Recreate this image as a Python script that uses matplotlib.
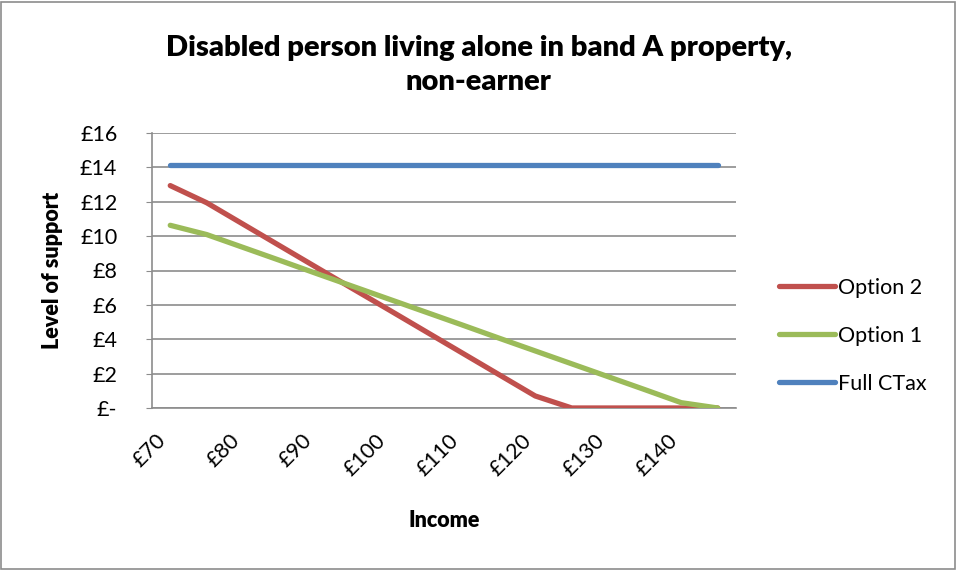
import matplotlib
matplotlib.use("Agg")
from matplotlib import pyplot as plt
from matplotlib.patches import Rectangle

# Data
income = ["£70", "£75", "£80", "£85", "£90", "£95", "£100", "£105",
          "£110", "£115", "£120", "£125", "£130", "£135", "£140", "£145"]
option_2 = [12.94, 11.94, 10.69, 9.44, 8.19, 6.94, 5.70, 4.45,
            3.20, 1.95, 0.70, 0.0, 0.0, 0.0, 0.0, 0.0]
option_1 = [10.63, 10.09, 9.34, 8.59, 7.83, 7.08, 6.33, 5.58,
            4.83, 4.07, 3.32, 2.57, 1.82, 1.07, 0.31, 0.0]
full_ctax = [14.15] * 16
y_ticks = [0, 2, 4, 6, 8, 10, 12, 14, 16]
y_labels = ["£-", "£2", "£4", "£6", "£8", "£10", "£12", "£14", "£16"]

W, H = 957, 570
plt.rcParams["font.family"] = ["Lato", "DejaVu Sans"]

fig = plt.figure(figsize=(W / 100, H / 100), dpi=100)
fig.patches.append(Rectangle((1 / W, 1 / H), 1 - 3 / W, 1 - 3 / H, transform=fig.transFigure,
                             fill=False, edgecolor="#8c8c8c", linewidth=1.2))

ax = fig.add_axes([152 / W, (H - 408) / H, 584 / W, 275 / H])
x = list(range(len(income)))

ax.plot(x, option_2, color="#C0504D", linewidth=3.8, solid_capstyle="round", label="Option 2", zorder=3)
ax.plot(x, option_1, color="#9BBB59", linewidth=3.8, solid_capstyle="round", label="Option 1", zorder=3)
ax.plot(x, full_ctax, color="#4F81BD", linewidth=3.8, solid_capstyle="round", label="Full CTax", zorder=3)

ax.set_xlim(-0.5, len(income) - 0.5)
ax.set_ylim(0, 16)
ax.set_yticks(y_ticks)
ax.set_yticklabels(y_labels, fontsize=15.5)
ax.yaxis.grid(True, color="#8c8c8c", linewidth=1.2)
ax.set_axisbelow(True)
ax.tick_params(axis="y", length=4, color="#8c8c8c", pad=21)

ax.set_xticks(x[::2])
ax.set_xticklabels(income[::2], fontsize=15.5, rotation=45, ha="right", va="top")
ax.tick_params(axis="x", length=0, pad=16)

for side in ["top", "right"]:
    ax.spines[side].set_visible(False)
for side in ["left", "bottom"]:
    ax.spines[side].set_color("#8c8c8c")
    ax.spines[side].set_linewidth(1.2)

ax.set_xlabel("Income", fontsize=15.5, fontweight="heavy", labelpad=22)
ax.set_ylabel("Level of support", fontsize=15.5, fontweight="heavy", labelpad=12)

fig.text(0.5, 1 - 48 / H, "Disabled person living alone in band A property,", ha="center", va="center",
         fontsize=21, fontweight="heavy")
fig.text(0.5, 1 - 82 / H, "non-earner", ha="center", va="center", fontsize=21, fontweight="heavy")

ax.legend(loc="center left", bbox_to_anchor=(770 / W, 1 - 336 / H), bbox_transform=fig.transFigure,
          frameon=False, fontsize=15.5, handlelength=2.6, handletextpad=0.15, labelspacing=1.3,
          borderaxespad=0)

fig.savefig("out.png", dpi=100)
